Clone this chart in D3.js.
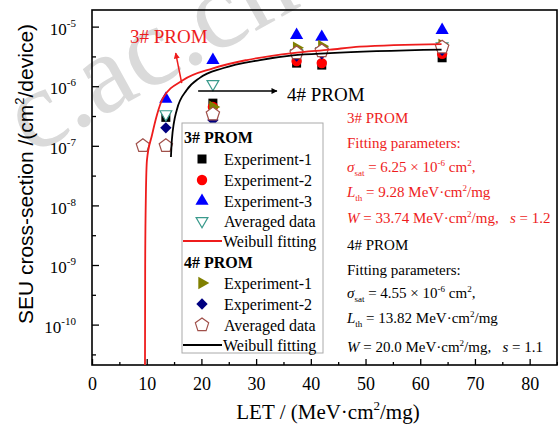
<!DOCTYPE html>
<html>
<head>
<meta charset="utf-8">
<script src="https://cdn.jsdelivr.net/npm/d3@7"></script>
<style>
  body { margin: 0; background: #fff; }
  svg { display: block; }
</style>
</head>
<body>
<div id="chart"></div>
<script>
// ---- data ----
const xTicks = [0, 10, 20, 30, 40, 50, 60, 70, 80];
const yTickExps = [-5, -6, -7, -8, -9, -10];

// 3# PROM
const p3Exp1LET = [13.5, 22.1, 37.4, 42.0, 64.0];
const p3Exp1Sigma = [3.0e-7, 5.2e-7, 2.44e-6, 2.26e-6, 3.0e-6];
const p3Exp2LET = [22.1, 37.4, 42.0, 64.0];
const p3Exp2Sigma = [4.5e-7, 2.64e-6, 2.44e-6, 3.5e-6];
const p3Exp3LET = [13.5, 22.1, 37.4, 42.0, 64.0];
const p3Exp3Sigma = [6.1e-7, 2.74e-6, 7.2e-6, 6.7e-6, 8.7e-6];
const p3AvgLET = [13.5, 22.1, 37.4, 42.0, 64.0];
const p3AvgSigma = [3.4e-7, 1.09e-6, 3.6e-6, 3.9e-6, 4.7e-6];
const p3FitLET = [9.68, 9.72, 9.85, 10.05, 10.96, 11.87, 12.97, 16.6, 22.1, 28.3, 36.7, 43.5, 48.9, 63.9];
const p3FitSigma = [1e-11, 1e-9, 1.5e-8, 5.8e-8, 1.5e-7, 3.3e-7, 6.3e-7, 1.26e-6, 2.0e-6, 2.75e-6, 3.6e-6, 4.1e-6, 4.6e-6, 5.1e-6];

// 4# PROM
const p4Exp1LET = [22.1, 37.4, 42.0, 64.0];
const p4Exp1Sigma = [4.5e-7, 4.4e-6, 4.7e-6, 4.9e-6];
const p4Exp2LET = [13.5, 22.1, 37.4, 42.0, 64.0];
const p4Exp2Sigma = [2.0e-7, 2.7e-7, 3.2e-6, 3.5e-6, 4.0e-6];
const p4AvgLET = [9.3, 13.5, 22.1, 37.4, 42.0, 64.0];
const p4AvgSigma = [1.0e-7, 1.0e-7, 3.4e-7, 3.6e-6, 3.9e-6, 4.5e-6];
const p4FitLET = [14.43, 14.6, 15.5, 17.35, 19.7, 23.9, 30.7, 36.7, 43.5, 63.9];
const p4FitSigma = [6.5e-8, 1.26e-7, 4.0e-7, 8.7e-7, 1.38e-6, 2.0e-6, 2.75e-6, 3.3e-6, 3.6e-6, 4.1e-6];

const zip = (xs, ys) => xs.map((d, i) => [d, ys[i]]);

// ---- layout ----
const W = 558, H = 434;
const frame = { left: 92, right: 557, top: 10, bottom: 365 };
const serif = "'Liberation Serif', 'Times New Roman', 'DejaVu Serif', serif";
const sans = "'Liberation Sans', Arial, sans-serif";

const svg = d3.select("#chart").append("svg")
  .attr("width", W).attr("height", H)
  .style("font-family", serif);

const x = d3.scaleLinear().domain([0, 85]).range([frame.left, frame.right]);
const y = d3.scaleLog().domain([2.1e-11, 1.9e-5]).range([frame.bottom, frame.top]);

// watermark
svg.append("g")
  .attr("transform", "translate(195,58) rotate(-29)")
  .append("text")
  .attr("x", -191).attr("y", 6)
  .attr("font-size", 112)
  .attr("fill", "#dadada")
  .text("c.ac.cn");

svg.append("defs").append("clipPath").attr("id", "plot")
  .append("rect")
  .attr("x", frame.left).attr("y", frame.top)
  .attr("width", frame.right - frame.left).attr("height", frame.bottom - frame.top);

// axes (ticks pointing in)
const xAxis = svg.append("g")
  .attr("transform", `translate(0,${frame.bottom})`)
  .call(d3.axisBottom(x).tickValues(xTicks).tickSize(-6).tickPadding(12));
svg.append("g")
  .attr("transform", `translate(0,${frame.bottom})`)
  .call(d3.axisBottom(x).tickValues(xTicks.map(d => d + 5)).tickSize(-3).tickFormat(""));
xAxis.selectAll("text").attr("font-size", 18).attr("font-family", serif).attr("fill", "#000");

const yAxis = svg.append("g")
  .attr("transform", `translate(${frame.left},0)`)
  .call(d3.axisLeft(y).tickValues(yTickExps.map(e => Math.pow(10, e)))
    .tickSize(-7).tickPadding(16).tickFormat(() => "10"));
svg.append("g")
  .attr("transform", `translate(${frame.left},0)`)
  .call(d3.axisLeft(y).tickValues(yTickExps.map(e => Math.pow(10, e + 0.5)).concat([Math.pow(10, -10.5)]))
    .tickSize(-4).tickFormat(""));
yAxis.selectAll("text")
  .attr("font-size", 17).attr("font-family", serif).attr("fill", "#000")
  .attr("dy", "0.45em")
  .each(function (d) {
    d3.select(this).append("tspan")
      .attr("dy", -8).attr("font-size", 11)
      .text(Math.round(Math.log10(d)));
  });

svg.selectAll(".domain").remove();
svg.selectAll(".tick line").attr("stroke", "#000").attr("stroke-width", 1.3);

svg.append("rect")
  .attr("x", frame.left).attr("y", frame.top)
  .attr("width", frame.right - frame.left).attr("height", frame.bottom - frame.top)
  .attr("fill", "none").attr("stroke", "#000").attr("stroke-width", 1.6);

// axis titles
svg.append("text")
  .attr("x", 328).attr("y", 419)
  .attr("text-anchor", "middle").attr("font-size", 21)
  .call(t => {
    t.append("tspan").text("LET / (MeV·cm");
    t.append("tspan").attr("dy", -9).attr("font-size", 13).text("2");
    t.append("tspan").attr("dy", 9).text("/mg)");
  });

svg.append("text")
  .attr("transform", "translate(33,174) rotate(-90)")
  .attr("text-anchor", "middle").attr("font-size", 21)
  .attr("font-family", sans)
  .call(t => {
    t.append("tspan").text("SEU cross-section /(cm");
    t.append("tspan").attr("dy", -9).attr("font-size", 13).text("2");
    t.append("tspan").attr("dy", 9).text("/device)");
  });

// ---- marks ----
const pentagon = (r) => {
  const pts = d3.range(5).map(k => {
    const a = (-90 + k * 72) * Math.PI / 180;
    return [r * Math.cos(a), r * Math.sin(a)];
  });
  return "M" + pts.map(p => p.join(",")).join("L") + "Z";
};

const styles = {
  p3e1: { path: d3.symbol(d3.symbolSquare, 81)(), rot: 0, fill: "#000", stroke: "none" },
  p3e2: { path: d3.symbol(d3.symbolCircle, 85)(), rot: 0, fill: "#ff0000", stroke: "none" },
  p3e3: { path: d3.symbol(d3.symbolTriangle, 75)(), rot: 0, fill: "#0000ff", stroke: "none" },
  p3av: { path: d3.symbol(d3.symbolTriangle, 60)(), rot: 180, fill: "#fff", stroke: "#3a9a8c" },
  p4e1: { path: d3.symbol(d3.symbolTriangle, 70)(), rot: 90, fill: "#808000", stroke: "none" },
  p4e2: { path: d3.symbol(d3.symbolSquare, 64)(), rot: 45, fill: "#000080", stroke: "none" },
  p4av: { path: pentagon(7), rot: 0, fill: "#fff", stroke: "#a0504a" }
};

const plot = svg.append("g").attr("clip-path", "url(#plot)");

function drawSeries(key, pts) {
  const s = styles[key];
  plot.append("g").selectAll("path")
    .data(pts)
    .join("path")
    .attr("d", s.path)
    .attr("transform", d => `translate(${x(d[0])},${y(d[1])}) rotate(${s.rot})`)
    .attr("fill", s.fill)
    .attr("stroke", s.stroke)
    .attr("stroke-width", 1.2);
}

drawSeries("p3e1", zip(p3Exp1LET, p3Exp1Sigma));
drawSeries("p3e2", zip(p3Exp2LET, p3Exp2Sigma));
drawSeries("p3e3", zip(p3Exp3LET, p3Exp3Sigma));
drawSeries("p3av", zip(p3AvgLET, p3AvgSigma));
drawSeries("p4e1", zip(p4Exp1LET, p4Exp1Sigma));
drawSeries("p4e2", zip(p4Exp2LET, p4Exp2Sigma));
drawSeries("p4av", zip(p4AvgLET, p4AvgSigma));

const line = d3.line().x(d => x(d[0])).y(d => y(d[1])).curve(d3.curveMonotoneX);
plot.append("path").datum(zip(p3FitLET, p3FitSigma))
  .attr("d", line).attr("fill", "none").attr("stroke", "#ee1c1c").attr("stroke-width", 1.8);
plot.append("path").datum(zip(p4FitLET, p4FitSigma))
  .attr("d", line).attr("fill", "none").attr("stroke", "#000").attr("stroke-width", 1.8);

// ---- annotations ----
const defs = svg.select("defs");
[["arRed", "#ee1c1c"], ["arBlk", "#000"]].forEach(([id, c]) => {
  defs.append("marker").attr("id", id)
    .attr("viewBox", "0 0 10 10").attr("refX", 9).attr("refY", 5)
    .attr("markerWidth", 8).attr("markerHeight", 6).attr("orient", "auto")
    .attr("markerUnits", "userSpaceOnUse")
    .append("path").attr("d", "M0,0L10,5L0,10Z").attr("fill", c);
});

svg.append("line")
  .attr("x1", x(16.4)).attr("y1", y(1.13e-6))
  .attr("x2", x(15.3)).attr("y2", y(3.6e-6))
  .attr("stroke", "#ee1c1c").attr("stroke-width", 1.5).attr("marker-end", "url(#arRed)");
svg.append("text").attr("x", 130).attr("y", 43)
  .attr("font-size", 19).attr("fill", "#ee1c1c").text("3# PROM");

svg.append("line")
  .attr("x1", x(19.4)).attr("y1", y(8.3e-7))
  .attr("x2", x(33.8)).attr("y2", y(8.3e-7))
  .attr("stroke", "#000").attr("stroke-width", 1.5).attr("marker-end", "url(#arBlk)");
svg.append("text").attr("x", 287).attr("y", 101)
  .attr("font-size", 19).attr("fill", "#000").text("4# PROM");

// ---- legend ----
const lg = svg.append("g");
lg.append("rect")
  .attr("x", 182).attr("y", 123).attr("width", 141).attr("height", 230)
  .attr("fill", "#fff").attr("stroke", "#aaa").attr("stroke-width", 1);

const legendRows = [
  { type: "head", label: "3# PROM", y: 137 },
  { type: "mark", key: "p3e1", label: "Experiment-1", y: 159 },
  { type: "mark", key: "p3e2", label: "Experiment-2", y: 180 },
  { type: "mark", key: "p3e3", label: "Experiment-3", y: 201 },
  { type: "mark", key: "p3av", label: "Averaged data", y: 221 },
  { type: "line", color: "#ee1c1c", label: "Weibull fitting", y: 241 },
  { type: "head", label: "4# PROM", y: 262 },
  { type: "mark", key: "p4e1", label: "Experiment-1", y: 283 },
  { type: "mark", key: "p4e2", label: "Experiment-2", y: 304 },
  { type: "mark", key: "p4av", label: "Averaged data", y: 325 },
  { type: "line", color: "#000", label: "Weibull fitting", y: 345 }
];

legendRows.forEach(r => {
  if (r.type === "head") {
    lg.append("text").attr("x", 184).attr("y", r.y + 5.5)
      .attr("font-size", 16).attr("font-weight", "bold").text(r.label);
    return;
  }
  if (r.type === "mark") {
    const s = styles[r.key];
    lg.append("path").attr("d", s.path)
      .attr("transform", `translate(202,${r.y}) rotate(${s.rot})`)
      .attr("fill", s.fill).attr("stroke", s.stroke).attr("stroke-width", 1.2);
    lg.append("text").attr("x", 224).attr("y", r.y + 5.5).attr("font-size", 16).text(r.label);
  } else {
    lg.append("line").attr("x1", 183).attr("x2", 222).attr("y1", r.y).attr("y2", r.y)
      .attr("stroke", r.color).attr("stroke-width", 1.8);
    lg.append("text").attr("x", 223).attr("y", r.y + 5.5).attr("font-size", 16).text(r.label);
  }
});

// ---- fitting parameter notes ----
function rich(sel, parts) {
  let shift = 0;
  parts.forEach(p => {
    const [txt, kind] = p;
    const target = kind === "sub" ? 4 : kind === "sup" ? -6 : 0;
    const ts = sel.append("tspan").text(txt).attr("dy", target - shift);
    shift = target;
    if (kind === "sub" || kind === "sup") ts.attr("font-size", 9);
    if (kind === "i") ts.attr("font-style", "italic");
  });
}

const notes = [
  { color: "#ee1c1c", y: 123, parts: [["3# PROM"]] },
  { color: "#ee1c1c", y: 148, parts: [["Fitting parameters:"]] },
  { color: "#ee1c1c", y: 172, parts: [["σ", "i"], ["sat", "sub"], [" = 6.25 × 10"], ["-6", "sup"], [" cm"], ["2", "sup"], [","]] },
  { color: "#ee1c1c", y: 197, parts: [["L", "i"], ["th", "sub"], [" = 9.28 MeV·cm"], ["2", "sup"], ["/mg"]] },
  { color: "#ee1c1c", y: 223, parts: [["W", "i"], [" = 33.74 MeV·cm"], ["2", "sup"], ["/mg,   "], ["s", "i"], [" = 1.2"]] },
  { color: "#000", y: 250, parts: [["4# PROM"]] },
  { color: "#000", y: 275, parts: [["Fitting parameters:"]] },
  { color: "#000", y: 298, parts: [["σ", "i"], ["sat", "sub"], [" = 4.55 × 10"], ["-6", "sup"], [" cm"], ["2", "sup"], [","]] },
  { color: "#000", y: 323, parts: [["L", "i"], ["th", "sub"], [" = 13.82 MeV·cm"], ["2", "sup"], ["/mg"]] },
  { color: "#000", y: 352, parts: [["W", "i"], [" = 20.0 MeV·cm"], ["2", "sup"], ["/mg,   "], ["s", "i"], [" = 1.1"]] }
];

notes.forEach(n => {
  const t = svg.append("text").attr("x", 347).attr("y", n.y)
    .attr("font-size", 15).attr("fill", n.color)
    .style("white-space", "pre");
  rich(t, n.parts);
});
</script>
</body>
</html>
